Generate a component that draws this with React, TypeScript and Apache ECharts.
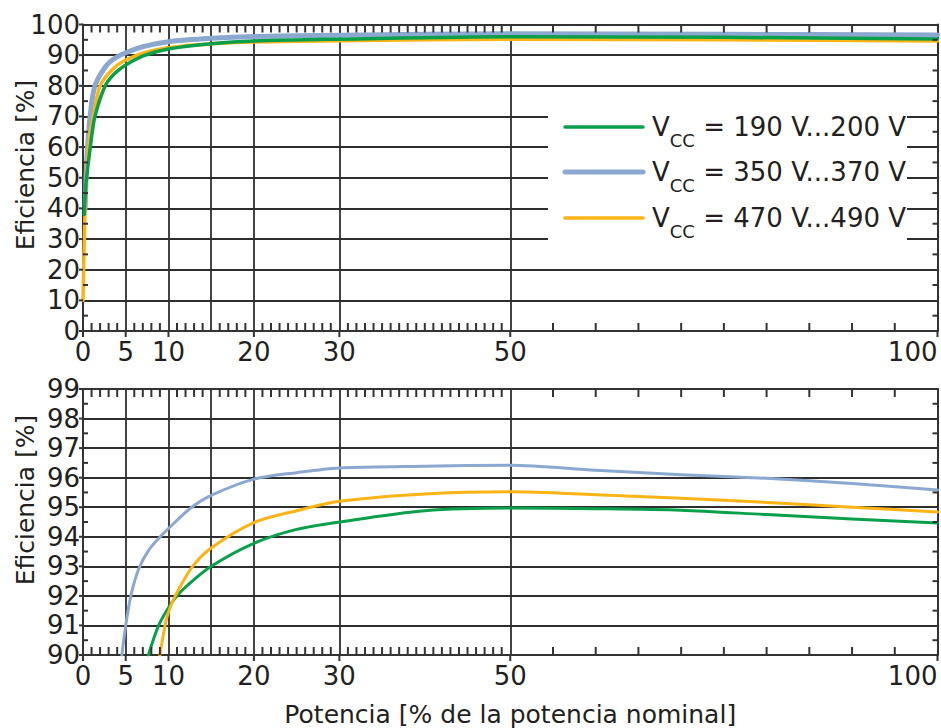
import React, { useEffect, useRef } from 'react';
import * as echarts from 'echarts';

const FONT = 'DejaVu Sans';
const TXT = '#231f20';
const AX = '#333333';
const GRIDC = '#2e2e2e';

// Series (legend) labels and colours
const legendRanges = ['190 V...200 V', '350 V...370 V', '470 V...490 V'];
const seriesNames = legendRanges.map((r) => 'VCC = ' + r);
const colors = ['#0a9f4a', '#8ba8d0', '#fbb416'];

// x-axis ticks (% of nominal power)
const xLabelValues = [0, 5, 10, 20, 30, 50];
const xLabelEnd = [100];
const xGridValues = [5, 10, 15, 20, 30, 50];
const xMinorFine = [1,2,3,4,6,7,8,9,11,12,13,14,16,17,18,19,21,22,23,24,25,26,27,28,29,31,32,33,34,35,36,37,38,39,40,41,42,43,44,45,46,47,48,49];
const xMinorCoarse = [55, 60, 65, 70, 75, 80, 85, 90, 95];

// y-axis ticks
const yTopMinor = [5, 15, 25, 35, 45, 55, 65, 75, 85, 95];
const yTopMajor = [0, 10, 20, 30, 40, 50, 60, 70, 80, 90, 100];
const yDetMinor = [90.5, 91.5, 92.5, 93.5, 94.5, 95.5, 96.5, 97.5, 98.5];
const yDetMajor = [90, 91, 92, 93, 94, 95, 96, 97, 98, 99];

// Top panel (overview, efficiency 0..100 %)
const topGreen = [[0.15,38],[0.35,48],[0.9,61],[1.4,70],[2.6,80],[3.7,84],[5,86.8],[7.3,90],[10,92],[15,93.7],[20,94.6],[30,95.2],[50,96.0],[75,95.8],[100,95.3]];
const topBlue = [[0.25,40],[0.45,56],[0.83,70],[1.4,80],[2.7,86.5],[3.9,89.3],[5,90.8],[7,92.8],[10,94.4],[15,95.5],[20,96.1],[30,96.5],[50,97.0],[75,96.8],[100,96.6]];
const topOrange = [[0,10],[0.12,25.6],[0.25,40],[0.45,53],[0.75,63],[1.2,70],[2,80],[3.5,85.5],[5,88.4],[7.3,90.9],[10,92.4],[15,93.7],[20,94.3],[30,94.7],[50,95.2],[75,95.0],[100,94.6]];

// Bottom panel (detail, efficiency 90..99 %)
const detGreen = [[7.65,90],[8.85,91],[10,91.6],[11,92.0],[12,92.3],[15,93.0],[20,93.78],[25,94.25],[30,94.5],[40,94.88],[50,94.97],[60,94.95],[70,94.9],[80,94.75],[90,94.6],[100,94.47]];
const detBlue = [[4.55,90],[5,91],[5.6,92],[6.5,92.9],[7.7,93.55],[9.2,94.05],[10,94.28],[12.5,94.95],[15,95.4],[20,95.95],[25,96.17],[30,96.33],[40,96.39],[50,96.42],[60,96.25],[70,96.1],[80,95.98],[90,95.8],[100,95.58]];
const detOrange = [[9.0,90],[9.6,91],[10,91.45],[10.8,92],[12.7,92.95],[15,93.62],[20,94.48],[25,94.88],[30,95.2],[40,95.45],[50,95.52],[60,95.42],[70,95.3],[80,95.16],[90,95.0],[100,94.84]];

function makeXAxes(gi: number, withName: boolean) {
  const base: any = {
    type: 'value', gridIndex: gi, min: 0, max: 100,
    axisLine: { show: false, onZero: false }, axisTick: { show: false },
    axisLabel: { show: false }, splitLine: { show: false },
  };
  const lbl = { show: true, margin: 8, fontSize: 26, fontFamily: FONT, color: TXT };
  const main: any = {
    ...base, position: 'bottom',
    axisLine: { show: true, onZero: false, lineStyle: { color: AX, width: 2 } },
    axisLabel: { ...lbl, customValues: xLabelValues },
  };
  if (withName) {
    main.name = 'Potencia [% de la potencia nominal]';
    main.nameLocation = 'middle';
    main.nameGap = 47;
    main.nameTextStyle = { fontSize: 25, fontFamily: FONT, color: TXT };
  }
  return [
    main,
    { ...base, position: 'bottom', axisLabel: { ...lbl, customValues: xLabelEnd, align: 'right' } },
    { ...base, position: 'top', axisLine: { show: true, onZero: false, lineStyle: { color: AX, width: 2 } } },
    { ...base, position: 'bottom', axisTick: { show: false, customValues: xGridValues }, splitLine: { show: true, lineStyle: { color: GRIDC, width: 1.8 } } },
  ];
}

function makeYAxes(gi: number, min: number, max: number, interval: number) {
  const base: any = {
    type: 'value', gridIndex: gi, min, max, interval,
    axisLine: { show: false, onZero: false }, axisTick: { show: false },
    axisLabel: { show: false }, splitLine: { show: false },
  };
  return [
    {
      ...base, position: 'left',
      axisLine: { show: true, onZero: false, lineStyle: { color: AX, width: 2 } },
      axisLabel: { show: true, margin: 3, fontSize: 26, fontFamily: FONT, color: TXT },
      splitLine: { show: true, lineStyle: { color: GRIDC, width: 1.8 } },
    },
    {
      ...base, position: 'right',
      axisLine: { show: true, onZero: false, lineStyle: { color: AX, width: 2 } },
    },
  ];
}

function line(name: string, data: number[][], color: string, width: number, xi: number, yi: number, z: number) {
  return {
    type: 'line', name, data, xAxisIndex: xi, yAxisIndex: yi,
    symbol: 'none', smooth: 0.3, z,
    lineStyle: { color, width, cap: 'round', join: 'round' }, itemStyle: { color },
  };
}

export default function App() {
  const ref = useRef<HTMLDivElement>(null);
  useEffect(() => {
    if (!ref.current) return;
    const chart = echarts.init(ref.current, null, { renderer: 'svg' });
    const legendRowsY = [127, 172, 218];
    const legendWidths = [3.5, 5, 3.5];
    const legendGraphics: any[] = [
      { type: 'rect', shape: { x: 548, y: 95, width: 359, height: 160 }, style: { fill: '#ffffff' }, z: 50 },
    ];
    legendRanges.forEach((r, i) => {
      legendGraphics.push({
        type: 'line', z: 51,
        shape: { x1: 565, y1: legendRowsY[i], x2: 643, y2: legendRowsY[i] },
        style: { stroke: colors[i], lineWidth: legendWidths[i], lineCap: 'round' },
      });
      legendGraphics.push({
        type: 'text', z: 51, x: 652, y: legendRowsY[i],
        style: {
          text: '{v|V}{s|CC}{v| = ' + r + '}',
          align: 'left', verticalAlign: 'middle',
          rich: {
            v: { fontSize: 26, fontFamily: FONT, fill: TXT },
            s: { fontSize: 18, fontFamily: FONT, fill: TXT, padding: [26, 0, 0, 0] },
          },
        },
      });
    });
    const titles: any[] = [
      {
        type: 'text', x: 25, y: 165, rotation: Math.PI / 2, z: 51,
        style: { text: 'Eficiencia [%]', fontSize: 25, fontFamily: FONT, fill: TXT, align: 'center', verticalAlign: 'middle' },
      },
      {
        type: 'text', x: 25, y: 500, rotation: Math.PI / 2, z: 51,
        style: { text: 'Eficiencia [%]', fontSize: 25, fontFamily: FONT, fill: TXT, align: 'center', verticalAlign: 'middle' },
      },
    ];

    const option: any = {
      animation: false,
      grid: [
        { left: 83, right: 3.5, top: 24.5, height: 306.5 },
        { left: 83, right: 3.5, top: 389, height: 276 },
      ],
      xAxis: [...makeXAxes(0, false), ...makeXAxes(1, true)],
      yAxis: [...makeYAxes(0, 0, 100, 10), ...makeYAxes(1, 90, 99, 1)],
      series: [
        line(seriesNames[1], topBlue, colors[1], 5, 0, 0, 2),
        line(seriesNames[2], topOrange, colors[2], 3.5, 0, 0, 3),
        line(seriesNames[0], topGreen, colors[0], 3.5, 0, 0, 4),
        line(seriesNames[1], detBlue, colors[1], 3, 4, 2, 2),
        line(seriesNames[0], detGreen, colors[0], 3, 4, 2, 3),
        line(seriesNames[2], detOrange, colors[2], 3, 4, 2, 4),
      ],
    };
    chart.setOption(option);

    // tick marks, placed through the axes' own scales
    const ticks: any[] = [];
    const addTick = (xi: number, yi: number, x: number, y: number, dx: number, dy: number) => {
      const p = chart.convertToPixel({ xAxisIndex: xi, yAxisIndex: yi } as any, [x, y]) as number[];
      if (!p || isNaN(p[0]) || isNaN(p[1])) return;
      ticks.push({
        type: 'line', z: 40,
        shape: { x1: p[0], y1: p[1], x2: p[0] + dx, y2: p[1] + dy },
        style: { stroke: AX, lineWidth: 2 },
      });
    };
    const panels = [
      { xi: 0, yi: 0, yMin: 0, yMax: 100, minor: yTopMinor, major: yTopMajor },
      { xi: 4, yi: 2, yMin: 90, yMax: 99, minor: yDetMinor, major: yDetMajor },
    ];
    panels.forEach((pn) => {
      [...xMinorFine, ...xMinorCoarse].forEach((v) => {
        addTick(pn.xi, pn.yi, v, pn.yMin, 0, -8);
        addTick(pn.xi, pn.yi, v, pn.yMax, 0, 8);
      });
      [...xLabelValues, ...xLabelEnd].forEach((v) => addTick(pn.xi, pn.yi, v, pn.yMin, 0, 6));
      pn.minor.forEach((v) => {
        addTick(pn.xi, pn.yi, 0, v, 5, 0);
        addTick(pn.xi, pn.yi, 100, v, -5, 0);
      });
      pn.major.forEach((v) => addTick(pn.xi, pn.yi, 0, v, -4, 0));
    });

    chart.setOption({ graphic: [...legendGraphics, ...titles, ...ticks] });
    return () => chart.dispose();
  }, []);
  return (
    <div
      ref={ref}
      style={{ position: 'fixed', left: 0, top: 0, width: 941, height: 728, background: '#fff' }}
    />
  );
}
